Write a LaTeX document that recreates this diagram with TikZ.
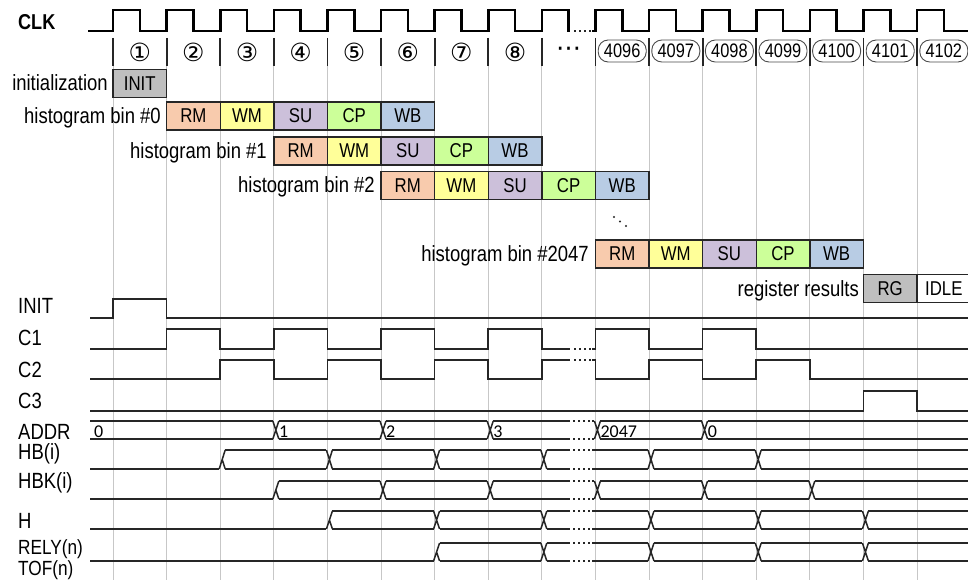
\documentclass[tikz,border=0pt]{standalone}
\usepackage{fontspec}
\setmainfont{Liberation Sans}[FakeStretch=0.84]
\newfontfamily\djv{DejaVu Sans}
\newfontfamily\carl{Carlito}
\definecolor{crm}{HTML}{F8CBAD}
\definecolor{cwm}{HTML}{FFFF99}
\definecolor{csu}{HTML}{CCC0DA}
\definecolor{ccp}{HTML}{CCFF99}
\definecolor{cwb}{HTML}{B8CCE4}
\definecolor{cgr}{HTML}{BFBFBF}
\newcommand\tdLblFont{\fontsize{22}{24}\selectfont}
\newcommand\tdBoxFont{\fontsize{20}{22}\selectfont}
\newcommand\tdX[3]{\draw[sig] ({#1-3},#2) -- ({#1+3},#3) ({#1-3},#3) -- ({#1+3},#2);}
\newcommand\tdRise[3]{\draw[sig] ({#1-3},#3) -- ({#1+3},#2) (#1,{(#2+#3)/2}) -- ({#1+3},#3);}
\newcommand\tdSeg[4]{\draw[sig] ({#1+3},#3) -- ({#2-3},#3) ({#1+3},#4) -- ({#2-3},#4);}
\newcommand\tdDots[2]{\draw[dotsig] (573,#1) -- (591,#1) (573,#2) -- (591,#2);}
\begin{document}
\begin{tikzpicture}[x=1pt,y=-1pt,
  sig/.style={line width=1.5pt,black!85,line join=miter},
  clk/.style={line width=2.6pt,black},
  dotsig/.style={line width=1.5pt,black!85,dash pattern=on 1.5pt off 3.5pt},
  gridl/.style={line width=0.8pt,black!22},
  bar/.style={line width=1.8pt,black!85},
  pbox/.style={draw=black!85,line width=1.4pt,minimum width=53.6pt,minimum height=28pt,inner sep=0pt,font=\tdBoxFont},
  lbl/.style={anchor=base east,inner sep=0pt,font=\tdLblFont},
  slbl/.style={anchor=base west,inner sep=0pt,font=\tdLblFont},
  cnum/.style={inner sep=0pt,font=\djv\fontsize{25}{27}\selectfont},
  oval/.style={draw=black!70,line width=0.9pt,rounded corners=10pt,minimum width=48pt,minimum height=22pt,inner sep=0pt,font=\fontsize{19.5}{21}\selectfont},
  bv/.style={anchor=base west,inner sep=0pt,font=\carl\fontsize{18}{20}\selectfont}]
\useasboundingbox (0,0) rectangle (968,580);
\fill[white] (0,0) rectangle (968,580);
% grid and bars
\foreach \k in {0,...,15} {
  \draw[gridl] ({113+53.6*\k},66) -- ({113+53.6*\k},580);
  \draw[bar] ({113+53.6*\k},38) -- ({113+53.6*\k},66);
}
% clock
\node[anchor=base west,inner sep=0pt,font=\bfseries\fontsize{21.5}{24}\selectfont] (clk) at (18,30) {CLK};
\draw[clk] (88,31) \foreach \k in {0,...,8} { -- ({113+53.6*\k},31) -- ({113+53.6*\k},10) -- ({139.8+53.6*\k},10) -- ({139.8+53.6*\k},31) } -- (570,31);
\draw[dotsig] (574,31) -- (592,31);
\draw[clk] (592,31) \foreach \k in {9,...,15} { -- ({113+53.6*\k},31) -- ({113+53.6*\k},10) -- ({139.8+53.6*\k},10) -- ({139.8+53.6*\k},31) } -- (968,31);
% cycle numbers
\foreach \k/\s in {0/①,1/②,2/③,3/④,4/⑤,5/⑥,6/⑦,7/⑧}
  \node[cnum] (n\k) at ({139.8+53.6*\k},52) {\s};
\node[cnum] (n8) at (568.6,52) {⋯};
\foreach \k/\s in {9/4096,10/4097,11/4098,12/4099,13/4100,14/4101,15/4102}
  \node[oval] (n\k) at ({139.8+53.6*\k},51) {\s};
% initialization
\node[pbox,fill=cgr] (init) at (139.8,83.5) {INIT};
\node[lbl] (linit) at (108,91) {initialization};
% histogram bins
\foreach \j/\t/\c in {0/RM/crm,1/WM/cwm,2/SU/csu,3/CP/ccp,4/WB/cwb} {
  \node[pbox,fill=\c] (a\t) at ({193.4+53.6*\j},116) {\t};
  \node[pbox,fill=\c] (b\t) at ({300.6+53.6*\j},151) {\t};
  \node[pbox,fill=\c] (c\t) at ({407.8+53.6*\j},185.5) {\t};
  \node[pbox,fill=\c] (d\t) at ({622.2+53.6*\j},254) {\t};
}
\node[lbl] (la) at (161,123.5) {histogram bin \#0};
\node[lbl] (lb) at (267,158.5) {histogram bin \#1};
\node[lbl] (lc) at (375,193) {histogram bin \#2};
\node[lbl] (ld) at (589,261.5) {histogram bin \#2047};
\fill[black!85] (614,217) circle (1.2) (620,221.5) circle (1.2) (626,226) circle (1.2);
\node[pbox,fill=cgr] (rg) at (890.2,288.5) {RG};
\node[pbox,fill=white] (idle) at (943.8,288.5) {IDLE};
\node[lbl] (lr) at (859,296) {register results};
% signal labels
\node[slbl] (sinit) at (18,313) {INIT};
\node[slbl] (sc1) at (18,345) {C1};
\node[slbl] (sc2) at (18,377) {C2};
\node[slbl] (sc3) at (18,408) {C3};
\node[slbl] (saddr) at (18,439) {ADDR};
\node[slbl] (shb) at (18,459) {HB(i)};
\node[slbl] (shbk) at (18,488) {HBK(i)};
\node[slbl] (sh) at (18,528) {H};
\node[slbl,font=\fontsize{20.5}{22}\selectfont] (srely) at (18,554) {RELY(n)};
\node[slbl,font=\fontsize{20.5}{22}\selectfont] (stof) at (18,575) {TOF(n)};
% INIT
\draw[sig] (90,318) -- (113,318) -- (113,299) -- (166.6,299) -- (166.6,318) -- (968,318);
% C1
\draw[sig] (90,349) -- (166.6,349) -- (166.6,329) -- (220.2,329) -- (220.2,349) -- (273.8,349) -- (273.8,329) -- (327.4,329) -- (327.4,349) -- (381,349) -- (381,329) -- (434.6,329) -- (434.6,349) -- (488.2,349) -- (488.2,329) -- (541.8,329) -- (541.8,349) -- (570,349);
\draw[dotsig] (574,349) -- (592,349);
\draw[sig] (592,349) -- (595.4,349) -- (595.4,329) -- (649,329) -- (649,349) -- (702.6,349) -- (702.6,329) -- (756.2,329) -- (756.2,349) -- (968,349);
% C2
\draw[sig] (90,379) -- (220.2,379) -- (220.2,360) -- (273.8,360) -- (273.8,379) -- (327.4,379) -- (327.4,360) -- (381,360) -- (381,379) -- (434.6,379) -- (434.6,360) -- (488.2,360) -- (488.2,379) -- (541.8,379) -- (541.8,360) -- (570,360);
\draw[dotsig] (574,360) -- (592,360);
\draw[sig] (592,360) -- (595.4,360) -- (595.4,379) -- (649,379) -- (649,360) -- (702.6,360) -- (702.6,379) -- (756.2,379) -- (756.2,360) -- (809.8,360) -- (809.8,379) -- (968,379);
% C3
\draw[sig] (90,411) -- (863.4,411) -- (863.4,391) -- (917,391) -- (917,411) -- (968,411);
% ADDR
\draw[sig] (90,421) -- (272.8,421) (90,439) -- (272.8,439);
\tdX{275.8}{421}{439}
\tdSeg{275.8}{383}{421}{439}
\tdX{383}{421}{439}
\tdSeg{383}{490.2}{421}{439}
\tdX{490.2}{421}{439}
\tdSeg{490.2}{573}{421}{439}
\tdDots{421}{439}
\tdSeg{589}{597.4}{421}{439}
\tdX{597.4}{421}{439}
\tdSeg{597.4}{704.6}{421}{439}
\tdX{704.6}{421}{439}
\tdSeg{704.6}{971}{421}{439}
\node[bv] (v0) at (94,437) {0};
\node[bv] (v1) at (279,437) {1};
\node[bv] (v2) at (386,437) {2};
\node[bv] (v3) at (493.2,437) {3};
\node[bv] (v4) at (600.4,437) {2047};
\node[bv] (v5) at (707.6,437) {0};
% HB(i)
\draw[sig] (90,469) -- (219.2,469);
\tdRise{222.2}{450}{469}
\tdSeg{222.2}{329.4}{450}{469}
\tdX{329.4}{450}{469}
\tdSeg{329.4}{436.6}{450}{469}
\tdX{436.6}{450}{469}
\tdSeg{436.6}{543.8}{450}{469}
\tdX{543.8}{450}{469}
\tdSeg{543.8}{573}{450}{469}
\tdDots{450}{469}
\tdSeg{589}{651}{450}{469}
\tdX{651}{450}{469}
\tdSeg{651}{758.2}{450}{469}
\tdX{758.2}{450}{469}
\tdSeg{758.2}{971}{450}{469}
% HBK(i)
\draw[sig] (90,499) -- (272.8,499);
\tdRise{275.8}{481}{499}
\tdSeg{275.8}{383}{481}{499}
\tdX{383}{481}{499}
\tdSeg{383}{490.2}{481}{499}
\tdX{490.2}{481}{499}
\tdSeg{490.2}{573}{481}{499}
\tdDots{481}{499}
\tdSeg{589}{597.4}{481}{499}
\tdX{597.4}{481}{499}
\tdSeg{597.4}{704.6}{481}{499}
\tdX{704.6}{481}{499}
\tdSeg{704.6}{811.8}{481}{499}
\tdX{811.8}{481}{499}
\tdSeg{811.8}{971}{481}{499}
% H
\draw[sig] (90,529) -- (326.4,529);
\tdRise{329.4}{511}{529}
\tdSeg{329.4}{436.6}{511}{529}
\tdX{436.6}{511}{529}
\tdSeg{436.6}{543.8}{511}{529}
\tdX{543.8}{511}{529}
\tdSeg{543.8}{573}{511}{529}
\tdDots{511}{529}
\tdSeg{589}{651}{511}{529}
\tdX{651}{511}{529}
\tdSeg{651}{758.2}{511}{529}
\tdX{758.2}{511}{529}
\tdSeg{758.2}{865.4}{511}{529}
\tdX{865.4}{511}{529}
\tdSeg{865.4}{971}{511}{529}
% RELY(n)/TOF(n)
\draw[sig] (90,561) -- (433.6,561);
\tdRise{436.6}{543}{561}
\tdSeg{436.6}{543.8}{543}{561}
\tdX{543.8}{543}{561}
\tdSeg{543.8}{573}{543}{561}
\tdDots{543}{561}
\tdSeg{589}{651}{543}{561}
\tdX{651}{543}{561}
\tdSeg{651}{758.2}{543}{561}
\tdX{758.2}{543}{561}
\tdSeg{758.2}{865.4}{543}{561}
\tdX{865.4}{543}{561}
\tdSeg{865.4}{971}{543}{561}
\end{tikzpicture}
\end{document}
